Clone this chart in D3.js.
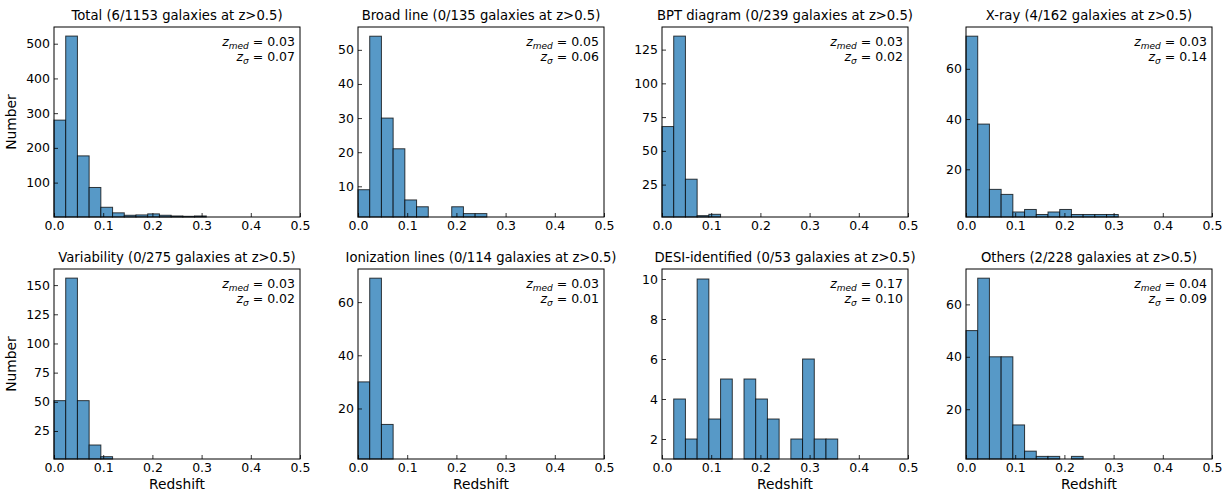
<!DOCTYPE html>
<html>
<head>
<meta charset="utf-8">
<script src="https://cdn.jsdelivr.net/npm/d3@7"></script>
<style>
body { margin: 0; background: #fff; }
text { font-family: "DejaVu Sans", sans-serif; fill: #000; }
</style>
</head>
<body>
<div id="canvas"></div>
<script>
// histogram counts, one value per redshift bin (21 bins from 0 to 0.5)
let binCount = 21,
zMax = 0.5;

let titles = [
	'Total (6/1153 galaxies at z>0.5)',
	'Broad line (0/135 galaxies at z>0.5)',
	'BPT diagram (0/239 galaxies at z>0.5)',
	'X-ray (4/162 galaxies at z>0.5)',
	'Variability (0/275 galaxies at z>0.5)',
	'Ionization lines (0/114 galaxies at z>0.5)',
	'DESI-identified (0/53 galaxies at z>0.5)',
	'Others (2/228 galaxies at z>0.5)'
];

let totalCounts = [280, 522, 177, 86, 29, 13, 6, 7, 10, 6, 4, 3, 4],
broadCounts = [9, 54, 30, 21, 6, 4, 1, 1, 4, 2, 2],
bptCounts = [68, 135, 29, 2, 3],
xrayCounts = [73, 38, 12, 10, 3, 4, 2, 3, 4, 2, 2, 2, 2],
variabilityCounts = [51, 156, 51, 13, 3],
ionizationCounts = [30, 69, 14],
desiCounts = [1, 4, 2, 10, 3, 5, 1, 5, 4, 3, 1, 2, 6, 2, 2],
othersCounts = [50, 70, 40, 40, 14, 4, 2, 2, 1, 2];

let zMed = ['0.03', '0.05', '0.03', '0.03', '0.03', '0.03', '0.17', '0.04'],
zSigma = ['0.07', '0.06', '0.02', '0.14', '0.02', '0.01', '0.10', '0.09'];

let yTicks = [
	[100, 200, 300, 400, 500],
	[10, 20, 30, 40, 50],
	[25, 50, 75, 100, 125],
	[20, 40, 60],
	[25, 50, 75, 100, 125, 150],
	[20, 40, 60],
	[2, 4, 6, 8, 10],
	[20, 40, 60]
];
let xTicks = [0, 0.1, 0.2, 0.3, 0.4, 0.5];

let allCounts = [totalCounts, broadCounts, bptCounts, xrayCounts,
	variabilityCounts, ionizationCounts, desiCounts, othersCounts];

let W = 1229, H = 492,
axw = 246, axh = 190,
lefts = [54, 358, 662, 966],
tops = [27, 269],
fillColor = '#5799c7',
canvas = d3.select('#canvas').append('svg').attr('width', W).attr('height', H);

allCounts.forEach((counts, k)=>{
	let col = k % 4,
	row = Math.floor(k / 4),
	x0 = lefts[col],
	y0 = tops[row];

	let binw = zMax / binCount;
	let bins = counts.map((c, i)=>({x0: i * binw, x1: (i + 1) * binw, n: c}));

	let x = d3.scaleLinear().domain([0, zMax]).range([0, axw]),
	y = d3.scaleLinear().domain([1, d3.max(counts) * 1.05]).range([axh, 0]);

	let g = canvas.append('g').attr('transform', 'translate(' + x0 + ',' + y0 + ')');

	//bars (values at or below 1 sit on the lower limit)
	g.selectAll('.bar')
	.data(bins.filter(d=>d.n > 1))
	.enter()
	.append('rect')
	.attr('x', d=>x(d.x0))
	.attr('y', d=>y(d.n))
	.attr('width', d=>x(d.x1) - x(d.x0))
	.attr('height', d=>y(1) - y(d.n))
	.style('fill', fillColor)
	.style('stroke', '#000')
	.style('stroke-opacity', 0.75)
	.style('stroke-width', 1);

	//axes with inward ticks
	let xAxis = d3.axisBottom(x).tickValues(xTicks).tickFormat(d3.format('.1f')).tickSizeInner(-4).tickSizeOuter(0).tickPadding(4);
	let yAxis = d3.axisLeft(y).tickValues(yTicks[k]).tickFormat(d3.format('d')).tickSizeInner(-4).tickSizeOuter(0).tickPadding(4);

	let gx = g.append('g').attr('transform', 'translate(0,' + axh + ')').call(xAxis);
	let gy = g.append('g').call(yAxis);
	[gx, gy].forEach(a=>{
		a.select('.domain').remove();
		a.selectAll('text').style('font-size', '12.5px').style('font-family', '"DejaVu Sans", sans-serif');
		a.selectAll('line').style('stroke', '#000').style('stroke-width', 0.8);
	});

	//frame
	g.append('rect')
	.attr('width', axw)
	.attr('height', axh)
	.style('fill', 'none')
	.style('stroke', '#000')
	.style('stroke-width', 1);

	//title
	g.append('text')
	.attr('x', axw / 2)
	.attr('y', -7)
	.attr('text-anchor', 'middle')
	.style('font-size', '13.2px')
	.text(titles[k]);

	//median / sigma note
	let note = g.append('text')
	.attr('x', axw - 5)
	.attr('y', 19)
	.attr('text-anchor', 'end')
	.style('font-size', '12.5px');
	note.append('tspan').style('font-style', 'italic').text('z');
	note.append('tspan').style('font-style', 'italic').style('font-size', '9px').attr('dy', 3).text('med');
	note.append('tspan').attr('dy', -3).text(' = ' + zMed[k]);

	let note2 = g.append('text')
	.attr('x', axw - 5)
	.attr('y', 34)
	.attr('text-anchor', 'end')
	.style('font-size', '12.5px');
	note2.append('tspan').style('font-style', 'italic').text('z');
	note2.append('tspan').style('font-style', 'italic').style('font-size', '9px').attr('dy', 3).text('σ');
	note2.append('tspan').attr('dy', -3).text(' = ' + zSigma[k]);

	if(col == 0){
		g.append('text')
		.attr('transform', 'translate(' + (-38) + ',' + (axh / 2) + ') rotate(-90)')
		.attr('text-anchor', 'middle')
		.style('font-size', '13.8px')
		.text('Number');
	}
	if(row == 1){
		g.append('text')
		.attr('x', axw / 2)
		.attr('y', axh + 30)
		.attr('text-anchor', 'middle')
		.style('font-size', '13.8px')
		.text('Redshift');
	}
});
</script>
</body>
</html>
